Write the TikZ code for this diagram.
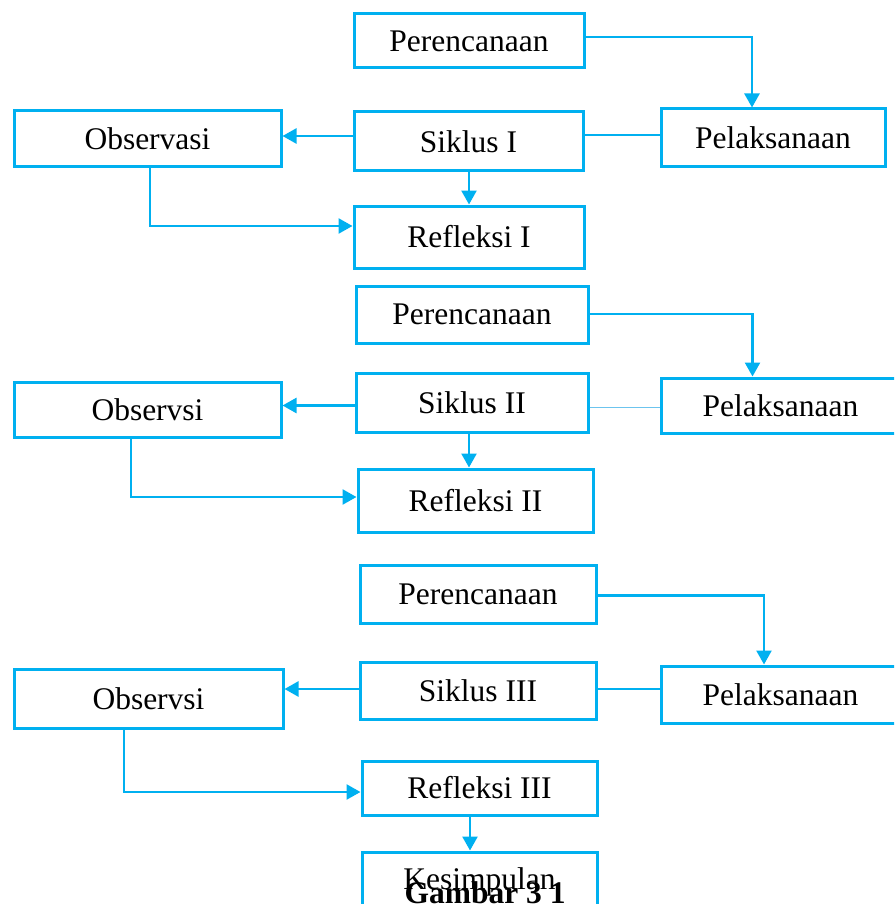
\documentclass[tikz,border=0pt]{standalone}
\usepackage{fontspec}
\setmainfont{Liberation Serif}
\usetikzlibrary{arrows.meta}
\definecolor{lb}{HTML}{00B0F0}
\definecolor{lbl}{HTML}{6CC4EE}
\begin{document}
\begin{tikzpicture}[x=1pt,y=-1pt,
  box/.style={draw=lb,line width=3pt,inner sep=0pt,font=\fontsize{31.5}{36}\selectfont,text=black},
  con/.style={draw=lb,line width=2.5pt},
  arr/.style={con,-{Triangle[length=14pt,width=15pt]}},
]
\useasboundingbox (0,0) rectangle (894,904);
\clip (0,0) rectangle (894,904);
% ---------- block 1 ----------
\node[box,minimum width=230pt,minimum height=54pt] (P1) at (469,41) {Perencanaan};
\node[box,minimum width=224pt,minimum height=58pt] (L1) at (773,138) {Pelaksanaan};
\node[box,minimum width=267pt,minimum height=56pt] (O1) at (147.5,139) {Observasi};
\node[box,minimum width=229pt,minimum height=59pt] (S1) at (468.5,141.5) {Siklus I};
\node[box,minimum width=230pt,minimum height=62pt] (R1) at (469,237) {Refleksi I};
\draw[arr] (P1.east |- 0,37) -| (L1.north -| 752,0);
\draw[con] (S1.east |- 0,135) -- (L1.west |- 0,135);
\draw[arr] (S1.west |- 0,136) -- (O1.east |- 0,136);
\draw[arr] (S1.south -| 469,0) -- (R1.north -| 469,0);
\draw[arr] (O1.south -| 150,0) |- (R1.west |- 0,226);
% ---------- block 2 ----------
\node[box,minimum width=232pt,minimum height=57pt] (P2) at (472,314.5) {Perencanaan};
\node[box,minimum width=239pt,minimum height=55pt] (L2) at (780.5,405.5) {Pelaksanaan};
\node[box,minimum width=267pt,minimum height=55pt] (O2) at (147.5,409.5) {Observsi};
\node[box,minimum width=232pt,minimum height=59pt] (S2) at (472,402.5) {Siklus II};
\node[box,minimum width=235pt,minimum height=63pt] (R2) at (475.5,500.5) {Refleksi II};
\draw[arr] (P2.east |- 0,314) -| (L2.north -| 752.5,0);
\draw[draw=lbl,line width=1.2pt] (S2.east |- 0,407.5) -- (L2.west |- 0,407.5);
\draw[arr] (S2.west |- 0,405.5) -- (O2.east |- 0,405.5);
\draw[arr] (S2.south -| 469,0) -- (R2.north -| 469,0);
\draw[arr] (O2.south -| 131,0) |- (R2.west |- 0,497);
% ---------- block 3 ----------
\node[box,minimum width=236pt,minimum height=58pt] (P3) at (478,594) {Perencanaan};
\node[box,minimum width=239pt,minimum height=57pt] (L3) at (780.5,694.5) {Pelaksanaan};
\node[box,minimum width=269pt,minimum height=59pt] (O3) at (148.5,698.5) {Observsi};
\node[box,minimum width=236pt,minimum height=57pt] (S3) at (478,690.5) {Siklus III};
\node[box,minimum width=235pt,minimum height=54pt] (R3) at (479.5,788) {Refleksi III};
\node[box,minimum width=235pt,minimum height=60pt] (K) at (479.5,882) {Kesimpulan};
\node[font=\fontsize{31.5}{36}\selectfont\bfseries,inner sep=0pt,anchor=base] (G) at (485,903) {Gambar 3 1};
\draw[arr] (P3.east |- 0,595.5) -| (L3.north -| 764,0);
\draw[con] (S3.east |- 0,689) -- (L3.west |- 0,689);
\draw[arr] (S3.west |- 0,689) -- (O3.east |- 0,689);
\draw[arr] (O3.south -| 124,0) |- (R3.west |- 0,792);
\draw[arr] (R3.south -| 470,0) -- (K.north -| 470,0);
\end{tikzpicture}
\end{document}
